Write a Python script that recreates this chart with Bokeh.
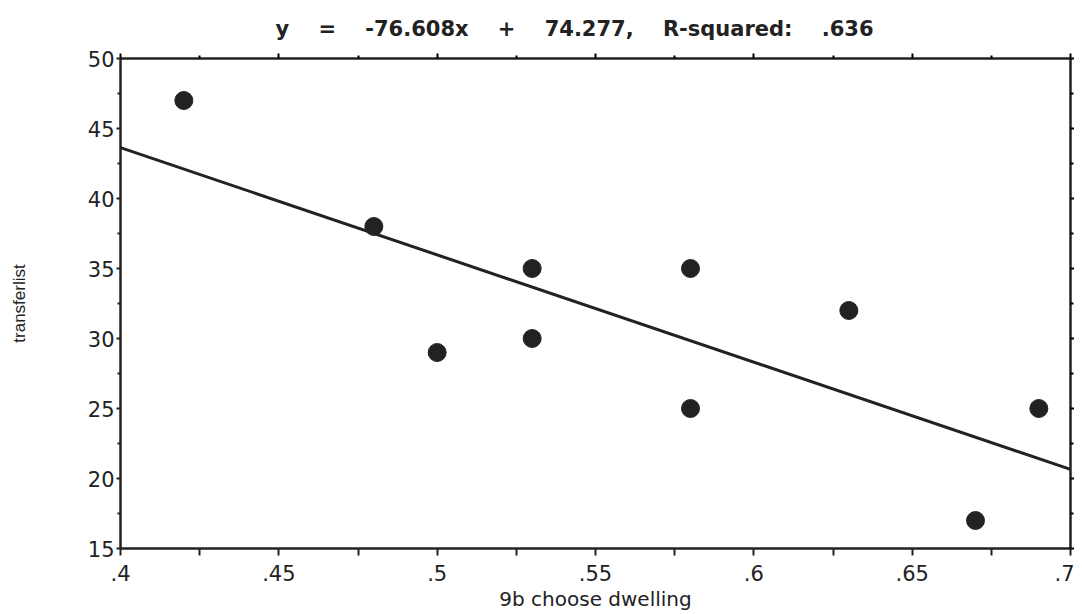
from bokeh.plotting import figure
from bokeh.models import FixedTicker, LinearAxis, Range1d
from bokeh.embed import file_html
from bokeh.resources import INLINE
import numpy as np

x_vals = [0.42, 0.48, 0.50, 0.53, 0.53, 0.58, 0.58, 0.63, 0.67, 0.69]
y_vals = [47, 38, 29, 35, 30, 35, 25, 32, 17, 25]
slope = -76.608
intercept = 74.277
x_ticks = [0.4, 0.45, 0.5, 0.55, 0.6, 0.65, 0.7]
x_tick_labels = [".4", ".45", ".5", ".55", ".6", ".65", ".7"]
y_ticks = [15, 20, 25, 30, 35, 40, 45, 50]
GAP = " " + "\u00a0" * 3
title_parts = ["y", "=", "-76.608x", "+", "74.277,", "R-squared:", ".636"]
title_text = GAP.join(title_parts)

p = figure(width=1074, height=614, output_backend="svg", toolbar_location=None,
           x_range=Range1d(0.4, 0.7), y_range=Range1d(15, 50),
           min_border_left=120, min_border_right=4, min_border_top=58, min_border_bottom=66)
p.title.text = title_text
p.title.align = "left"
p.title.offset = 155
p.title.text_font = "DejaVu Sans"
p.title.text_font_size = "21px"
p.title.text_font_style = "bold"
p.title.text_color = "#222222"
p.title.standoff = 26

p.grid.visible = False
p.outline_line_color = "#222222"
p.outline_line_width = 2
p.background_fill_color = "white"
p.border_fill_color = "white"

xr = np.array([0.4, 0.7])
p.line(xr, slope * xr + intercept, line_width=3, line_color="#222222")
p.scatter(x_vals, y_vals, size=18, fill_color="#222222", line_color="#222222")

xt = FixedTicker(ticks=x_ticks, minor_ticks=[0.425, 0.475, 0.525, 0.575, 0.625, 0.675])
yt = FixedTicker(ticks=y_ticks, minor_ticks=[17.5, 22.5, 27.5, 32.5, 37.5, 42.5, 47.5])

xa = p.xaxis[0]
xa.ticker = xt
xa.major_label_overrides = {t: l for t, l in zip(x_ticks, x_tick_labels)}
xa.axis_label = "9b choose dwelling"
xa.axis_label_text_font = "DejaVu Sans"
xa.axis_label_text_font_size = "20px"
xa.axis_label_text_font_style = "normal"
xa.axis_label_standoff = 3
xa.major_label_text_font = "DejaVu Sans"
xa.major_label_text_font_size = "21px"
xa.major_label_standoff = 9
xa.major_tick_out = 7
xa.major_tick_in = 0
xa.minor_tick_out = 7
xa.minor_tick_in = 0

ya = p.yaxis[0]
ya.ticker = yt
ya.axis_label = "transferlist"
ya.axis_label_text_font = "Liberation Sans"
ya.axis_label_text_font_size = "17px"
ya.axis_label_text_font_style = "normal"
ya.axis_label_standoff = 56
ya.major_label_text_font = "DejaVu Sans"
ya.major_label_text_font_size = "21px"
ya.major_label_standoff = 2
ya.major_tick_out = 4
ya.major_tick_in = 0
ya.minor_tick_out = 3
ya.minor_tick_in = 0

for ax in (xa, ya):
    ax.axis_line_width = 2
    ax.axis_line_color = "#222222"
    ax.major_tick_line_width = 2
    ax.minor_tick_line_width = 2
    ax.major_tick_line_color = "#222222"
    ax.minor_tick_line_color = "#222222"
    ax.major_label_text_color = "#222222"
    ax.axis_label_text_color = "#222222"

top = LinearAxis(ticker=xt, major_label_text_font_size="0px", major_tick_out=5, major_tick_in=0,
                 minor_tick_out=3, minor_tick_in=0, axis_line_width=2, major_tick_line_width=2,
                 minor_tick_line_width=2, axis_line_color="#222222")
right = LinearAxis(ticker=yt, major_label_text_font_size="0px", major_tick_out=4, major_tick_in=0,
                   minor_tick_out=3, minor_tick_in=0, axis_line_width=2, major_tick_line_width=2,
                   minor_tick_line_width=2, axis_line_color="#222222")
top.major_label_text_alpha = 0
right.major_label_text_alpha = 0
p.add_layout(top, "above")
p.add_layout(right, "right")

open("out.html", "w").write(file_html(p, INLINE))
